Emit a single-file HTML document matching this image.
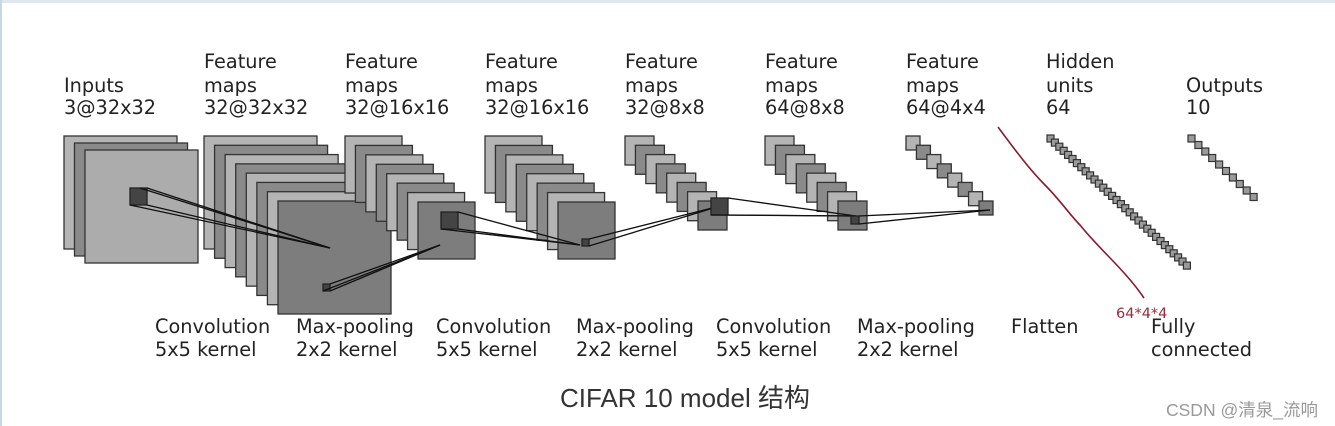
<!DOCTYPE html>
<html><head><meta charset="utf-8"><style>
html,body{margin:0;padding:0;background:#fff;}
body{width:1335px;height:426px;overflow:hidden;position:relative;}
svg{position:absolute;left:0;top:0;}
.t{font-family:"DejaVu Sans","Liberation Sans",sans-serif;font-size:19.3px;fill:#222;}
</style></head><body>
<svg id="s" width="1335" height="426" xmlns="http://www.w3.org/2000/svg">
<rect x="0" y="0" width="1335" height="3" fill="#dfe6ee"/>
<rect x="0" y="0" width="2" height="426" fill="#c9d6e6"/>
<g id="g"></g>
<g class="t">
<text x="64" y="92">Inputs</text><text x="64" y="114">3@32x32</text>
<text x="204" y="68">Feature</text><text x="204" y="92">maps</text><text x="204" y="114">32@32x32</text>
<text x="345" y="68">Feature</text><text x="345" y="92">maps</text><text x="345" y="114">32@16x16</text>
<text x="485" y="68">Feature</text><text x="485" y="92">maps</text><text x="485" y="114">32@16x16</text>
<text x="625" y="68">Feature</text><text x="625" y="92">maps</text><text x="625" y="114">32@8x8</text>
<text x="765" y="68">Feature</text><text x="765" y="92">maps</text><text x="765" y="114">64@8x8</text>
<text x="906" y="68">Feature</text><text x="906" y="92">maps</text><text x="906" y="114">64@4x4</text>
<text x="1046" y="68">Hidden</text><text x="1046" y="92">units</text><text x="1046" y="114">64</text>
<text x="1186" y="92">Outputs</text><text x="1186" y="114">10</text>
<text x="155" y="333">Convolution</text><text x="155" y="356">5x5 kernel</text>
<text x="296" y="333">Max-pooling</text><text x="296" y="356">2x2 kernel</text>
<text x="436" y="333">Convolution</text><text x="436" y="356">5x5 kernel</text>
<text x="576" y="333">Max-pooling</text><text x="576" y="356">2x2 kernel</text>
<text x="716" y="333">Convolution</text><text x="716" y="356">5x5 kernel</text>
<text x="857" y="333">Max-pooling</text><text x="857" y="356">2x2 kernel</text>
<text x="1011" y="333">Flatten</text>
<text x="1151" y="333">Fully</text><text x="1151" y="356">connected</text>
</g>
<path d="M998,127 C1015,150 1030,170 1045,185 C1060,200 1070,215 1080,225 C1100,250 1125,270 1144,298" fill="none" stroke="#8b1a2a" stroke-width="1.6"/>
<text x="1116" y="318" font-family="DejaVu Sans,Liberation Sans,sans-serif" font-size="14.5" fill="#9b2a3a">64*4*4</text>
<text x="560" y="407" font-family="Liberation Sans,'Noto Sans CJK SC',sans-serif" font-size="26" fill="#333">CIFAR 10 model 结构</text>
<text x="1166" y="416" font-family="Liberation Sans,'Noto Sans CJK SC',sans-serif" font-size="17.5" fill="#999">CSDN @清泉_流响</text>
</svg>
<script>
var g=document.getElementById('g'),h='';
function r(x,y,w,f){h+='<rect x="'+x+'" y="'+y+'" width="'+w+'" height="'+w+'" fill="'+f+'" stroke="#333" stroke-width="1.3"/>';}
function stack(x0,y0,x1,y1,n,w,last){for(var i=0;i<n;i++){var x=x0+(x1-x0)*i/(n-1),y=y0+(y1-y0)*i/(n-1);var f=(i%2==0)?'#b4b4b4':'#8a8a8a';if(i==n-1&&last)f=last;r(x,y,w,f);}}
stack(64,136,85,150,3,113,'#acacac');
stack(204,136,278,201,8,113,'#7d7d7d');
stack(345,136,418,202,8,57,'#7d7d7d');
stack(485,136,558,202,8,57,'#7d7d7d');
stack(625,136,698,201,8,29,'#7d7d7d');
stack(765,136,838,201,8,29,'#7d7d7d');
stack(906,136,979,201,8,14,'#7d7d7d');
for(var i=0;i<32;i++){h+='<rect x="'+(1047+i*4.4)+'" y="'+(135+i*4.1)+'" width="7" height="7" fill="#9a9a9a" stroke="#333" stroke-width="1.2"/>';}
for(var i=0;i<10;i++){h+='<rect x="'+(1188+i*6.9)+'" y="'+(135+i*6.5)+'" width="7" height="7" fill="#9a9a9a" stroke="#333" stroke-width="1.2"/>';}
function L(a,b,c,d){h+='<line x1="'+a+'" y1="'+b+'" x2="'+c+'" y2="'+d+'" stroke="#111" stroke-width="1.3"/>';}
function box(x,y,w,f){h+='<rect x="'+x+'" y="'+y+'" width="'+w+'" height="'+w+'" fill="'+f+'" stroke="#222" stroke-width="1.3"/>';}
box(130,188,17,'#444');L(147,188,330,248);L(147,205,330,248);L(130,205,330,248);L(140,188,330,248);
box(323,284,7,'#444');L(330,284,440,245);L(330,291,440,245);L(323,291,440,245);
box(441,212,17,'#444');L(458,212,580,245);L(458,229,580,245);L(441,229,580,245);
box(582,239,7,'#444');L(589,239,720,206);L(589,246,720,206);
box(711,198,17,'#444');L(728,198,856,216);L(728,215,856,216);L(711,215,856,216);
box(851,216,8,'#444');L(859,216,990,210);L(859,224,990,210);
g.innerHTML=h;
</script>
</body></html>
